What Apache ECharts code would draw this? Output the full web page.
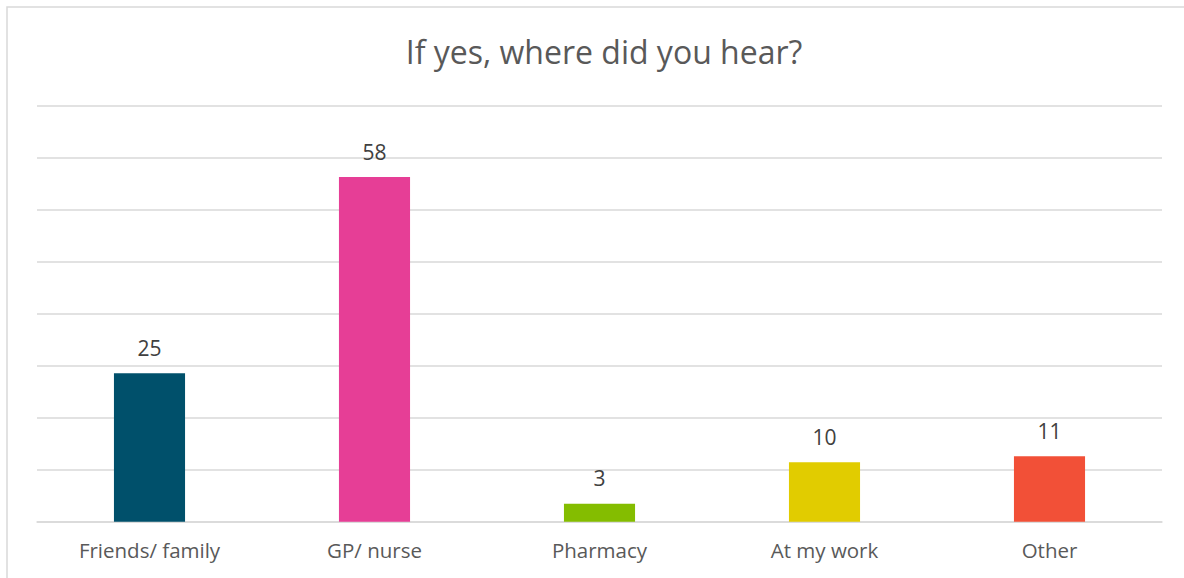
<!DOCTYPE html>
<html>
<head>
<meta charset="utf-8">
<script src="https://cdn.jsdelivr.net/npm/echarts@6/dist/echarts.min.js"></script>
<style>
  html, body { margin: 0; padding: 0; background: #fff; }
  #chart { width: 1184px; height: 578px; }
</style>
</head>
<body>
<div id="chart"></div>
<script>
const categories = ["Friends/ family", "GP/ nurse", "Pharmacy", "At my work", "Other"];
const counts = [25, 58, 3, 10, 11];
const barColors = ["#00506B", "#E63E96", "#84BD00", "#E1CC00", "#F25037"];

const chart = echarts.init(document.getElementById("chart"), null, { renderer: "svg" });

chart.setOption({
    animation: false,
    backgroundColor: "#fff",
    title: {
        text: "If yes, where did you hear?",
        left: 599,
        top: 30,
        textAlign: "center",
        textStyle: { fontFamily: "Open Sans", fontSize: 32, fontWeight: "normal", color: "#595959" }
    },
    graphic: [{
        type: "rect",
        shape: { x: 7, y: 7, width: 1200, height: 600 },
        style: { fill: "none", stroke: "#D9D9D9", lineWidth: 1.5 },
        silent: true
    }],
    grid: { left: 37, right: 22, top: 105.7, bottom: 56.3, containLabel: false },
    xAxis: {
        type: "category",
        data: categories,
        axisLine: { show: true, lineStyle: { color: "#D9D9D9", width: 1.5 } },
        axisTick: { show: false },
        axisLabel: { fontFamily: "Open Sans", fontSize: 20.5, color: "#595959", margin: 18 }
    },
    yAxis: {
        type: "value",
        min: 0,
        max: 70,
        interval: 8.75,
        axisLabel: { show: false },
        axisLine: { show: false },
        axisTick: { show: false },
        splitLine: { lineStyle: { color: "#D9D9D9", width: 1.5 } }
    },
    series: [{
        type: "bar",
        data: counts.map((v, i) => ({ value: v, itemStyle: { color: barColors[i] } })),
        barWidth: "31.6%",
        label: {
            show: true,
            position: "top",
            distance: 15,
            fontFamily: "Open Sans",
            fontSize: 21,
            color: "#404040"
        }
    }]
});
</script>
</body>
</html>
